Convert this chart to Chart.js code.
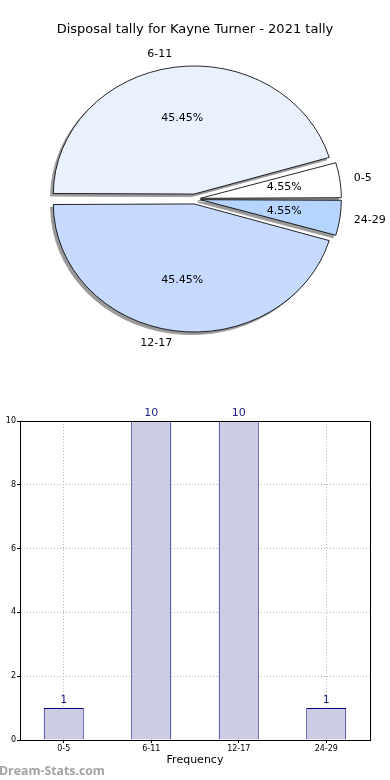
<!DOCTYPE html>
<html lang="en">
<head>
<meta charset="UTF-8">
<title>Disposal tally for Kayne Turner - 2021 tally</title>
<script src="https://cdn.jsdelivr.net/npm/chart.js@4.4.1/dist/chart.umd.min.js"></script>
</head>
<body style="margin:0; width:390px; height:780px; overflow:hidden; background:#fff; position:relative; font-family:'DejaVu Sans', sans-serif;">

<canvas id="pie" width="390" height="398" style="position:absolute; left:0; top:0;"></canvas>
<canvas id="bars" width="400" height="400" style="position:absolute; left:-10px; top:380px;"></canvas>
<div style="position:absolute; left:-1px; top:762px; font-family:'Open Sans', sans-serif; font-weight:700; font-size:12.3px; color:#a3a3a3;">Dream-Stats.com</div>

<script>
// data
const chartTitle = 'Disposal tally for Kayne Turner - 2021 tally';
const categories = ['0-5', '6-11', '12-17', '24-29'];
const counts = [1, 10, 10, 1];
const pieColours = ['#ffffff', '#eaf1fe', '#c6d9fe', '#b5d4fe'];
const yTicks = [0, 2, 4, 6, 8, 10];

// pie is drawn clockwise by Chart.js, matplotlib goes the other way -> reverse
const pieLabels = categories.slice().reverse();
const pieValues = counts.slice().reverse();
const pieFill = pieColours.slice().reverse();
const total = counts.reduce((a, b) => a + b, 0);

const CX = 195;      // pie centre x
const SX = 1.10;     // horizontal stretch (pie is an ellipse in the picture)
const OFFSET = 20;   // chart.js offset (divided by 4 internally)

const stretchPlugin = {
    id: 'stretch',
    beforeDatasetsDraw(chart) {
        const ctx = chart.ctx;
        ctx.save();
        ctx.translate(CX, 0);
        ctx.scale(SX, 1);
        ctx.translate(-CX, 0);

        // shadow pass: grey copies of each wedge, shifted left/down, under everything
        ctx.save();
        ctx.translate(-2.7 / SX, 2.6);
        chart.getDatasetMeta(0).data.forEach(arc => {
            const o = arc.options;
            arc.options = Object.assign({}, o, { backgroundColor: '#9a9a9a', borderColor: '#9a9a9a' });
            arc.draw(ctx);
            arc.options = o;
        });
        ctx.restore();
    },
    afterDatasetsDraw(chart) {
        const ctx = chart.ctx;
        ctx.restore();

        // labels and percentages
        const meta = chart.getDatasetMeta(0);
        ctx.save();
        ctx.font = '11px "DejaVu Sans"';
        ctx.fillStyle = '#000';
        ctx.textBaseline = 'middle';
        meta.data.forEach((arc, i) => {
            const mid = (arc.startAngle + arc.endAngle) / 2;
            const circ = arc.endAngle - arc.startAngle;
            const shift = OFFSET / 4;
            const r = arc.outerRadius + shift * (1 - Math.sin(Math.min(Math.PI, circ)));
            const at = (d) => {
                const px = arc.x + (shift + d) * Math.cos(mid);
                const py = arc.y + (shift + d) * Math.sin(mid);
                return [CX + (px - CX) * SX, py];
            };
            const pct = (pieValues[i] / total * 100).toFixed(2) + '%';
            let p = at(0.6 * r);
            ctx.textAlign = 'center';
            ctx.fillText(pct, p[0], p[1]);
            p = at(1.1 * r);
            ctx.textAlign = Math.cos(mid) >= 0 ? 'left' : 'right';
            ctx.fillText(pieLabels[i], p[0], p[1]);
        });
        ctx.textAlign = 'center';
        ctx.font = '13px "DejaVu Sans"';
        ctx.fillText(chartTitle, 195, 30);
        ctx.restore();
    }
};

new Chart(document.getElementById('pie'), {
    type: 'pie',
    data: {
        labels: pieLabels,
        datasets: [{
            data: pieValues,
            backgroundColor: pieFill,
            borderColor: '#000',
            borderWidth: 0.8,
            offset: OFFSET
        }]
    },
    options: {
        responsive: false,
        animation: false,
        events: [],
        rotation: 90,
        radius: 124.5,
        layout: { padding: 0 },
        plugins: { legend: { display: false }, tooltip: { enabled: false }, title: { display: false } }
    },
    plugins: [stretchPlugin]
});

// bar chart extras: box on top/right and value labels
const barExtras = {
    id: 'barExtras',
    afterDraw(chart) {
        const ctx = chart.ctx;
        const a = chart.chartArea;
        ctx.save();
        ctx.strokeStyle = '#000';
        ctx.lineWidth = 1;
        ctx.beginPath();
        ctx.moveTo(a.left, a.top + 0.5);
        ctx.lineTo(a.right + 0.5, a.top + 0.5);
        ctx.lineTo(a.right + 0.5, a.bottom);
        ctx.stroke();

        ctx.font = '11px "DejaVu Sans"';
        ctx.fillStyle = '#1a1a8a';
        ctx.textAlign = 'center';
        ctx.textBaseline = 'bottom';
        chart.getDatasetMeta(0).data.forEach((bar, i) => {
            ctx.fillText(String(counts[i]), bar.x, bar.y - 2);
        });
        ctx.restore();
    }
};

new Chart(document.getElementById('bars'), {
    type: 'bar',
    data: {
        labels: categories,
        datasets: [{
            data: counts,
            backgroundColor: '#cccce5',
            borderColor: '#000080',
            borderWidth: 1,
            categoryPercentage: 1,
            barPercentage: 0.457
        }]
    },
    options: {
        responsive: false,
        animation: false,
        events: [],
        layout: { padding: { top: 41, right: 20, bottom: 0, left: 0 } },
        plugins: { legend: { display: false }, tooltip: { enabled: false } },
        scales: {
            x: {
                offset: true,
                grid: { offset: false, color: '#b5b5b5', lineWidth: 1, tickLength: 3, tickColor: '#000', tickBorderDash: [] },
                border: { color: '#000', width: 1, dash: [1, 2] },
                ticks: { font: { size: 8, family: 'DejaVu Sans' }, color: '#000', padding: 1, maxRotation: 0 },
                title: { display: true, text: 'Frequency', font: { size: 11, family: 'DejaVu Sans' }, color: '#000', padding: { top: 0, bottom: 13 } },
                afterFit(scale) { scale.height = 40; }
            },
            y: {
                min: 0,
                max: 10,
                afterBuildTicks(scale) { scale.ticks = yTicks.map(v => ({ value: v })); },
                grid: { color: '#b5b5b5', lineWidth: 1, tickLength: 3, tickColor: '#000', tickBorderDash: [] },
                border: { color: '#000', width: 1, dash: [1, 2] },
                ticks: { font: { size: 8, family: 'DejaVu Sans' }, color: '#000', padding: 1 },
                title: { display: true, text: 'Occurrences', font: { size: 11, family: 'DejaVu Sans' }, color: '#000', padding: { top: 1, bottom: 0 } },
                afterFit(scale) { scale.width = 30; }
            }
        }
    },
    plugins: [barExtras]
});
</script>
</body>
</html>
